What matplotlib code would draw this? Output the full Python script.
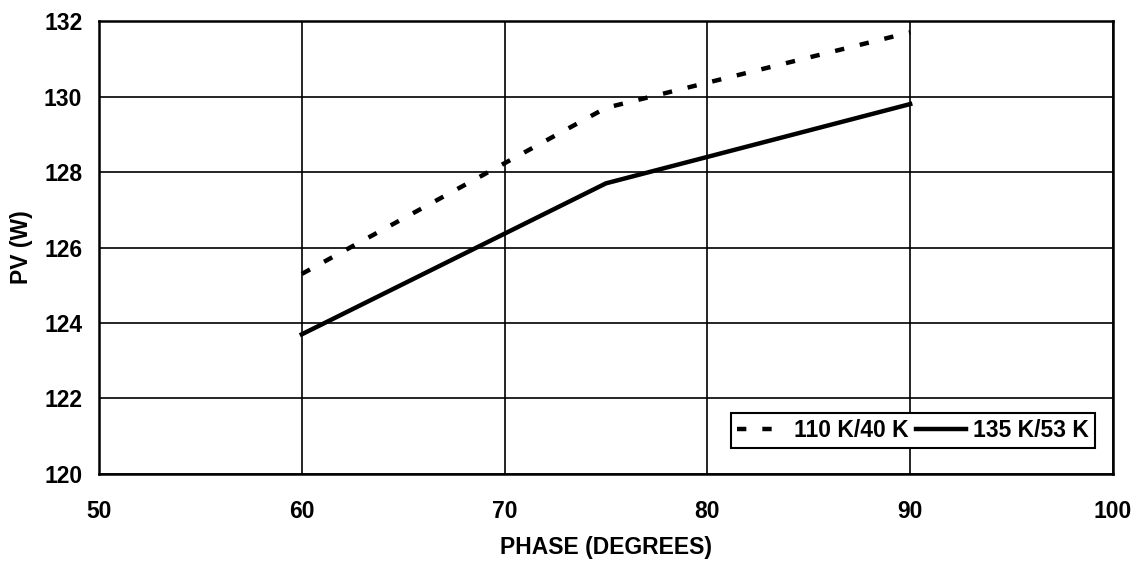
import matplotlib
matplotlib.use("Agg")
import matplotlib.pyplot as plt

# data
phase = [60, 75, 90]
pv_110_40 = [125.3, 129.7, 131.7]
pv_135_53 = [123.7, 127.7, 129.8]
x_ticks = [50, 60, 70, 80, 90, 100]
y_ticks = [120, 122, 124, 126, 128, 130, 132]

plt.rcParams['font.family'] = ['Liberation Sans', 'DejaVu Sans']
plt.rcParams['font.weight'] = 'bold'

fig = plt.figure(figsize=(11.38, 5.62), dpi=100)
ax = fig.add_axes([0.087, 0.1566, 0.891, 0.806])

ax.plot(phase, pv_110_40, color='black', linewidth=3.2,
        linestyle=(0, (2.1, 3.6)), label='110 K/40 K')
ax.plot(phase, pv_135_53, color='black', linewidth=3.2, label='135 K/53 K')

ax.set_xlim(50, 100)
ax.set_ylim(120, 132)
ax.set_xticks(x_ticks)
ax.set_yticks(y_ticks)
ax.tick_params(length=0, labelsize=16.5)
ax.tick_params(axis='x', pad=19)
ax.tick_params(axis='y', pad=12)
for lab in ax.get_xticklabels() + ax.get_yticklabels():
    lab.set_fontweight('bold')

ax.grid(True, color='black', linewidth=1.2)
ax.set_axisbelow(True)
for sp in ax.spines.values():
    sp.set_linewidth(1.8)
    sp.set_color('black')

ax.set_xlabel('PHASE (DEGREES)', fontsize=16.5, fontweight='bold', labelpad=9)
ax.set_ylabel('PV (W)', fontsize=16.5, fontweight='bold', labelpad=8)

leg = ax.legend(loc='lower right', bbox_to_anchor=(0.982, 0.058),
                fontsize=16.5, frameon=True, fancybox=False, handlelength=2.2,
                handletextpad=0.3, columnspacing=0.3, ncol=2,
                borderpad=0.25, borderaxespad=0)
leg.get_frame().set_edgecolor('black')
leg.get_frame().set_linewidth(1.5)
leg.get_frame().set_alpha(1)
for t in leg.get_texts():
    t.set_fontweight('bold')

fig.savefig('out.png', dpi=100, facecolor='white')
